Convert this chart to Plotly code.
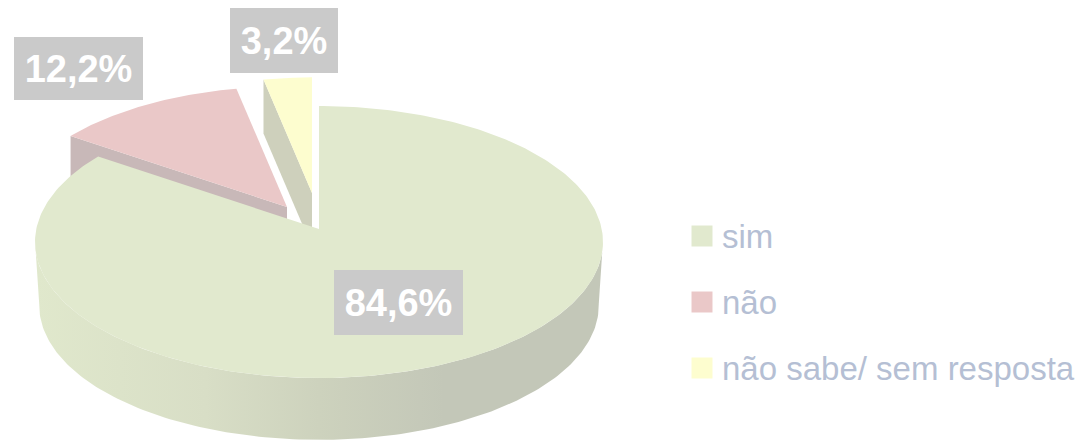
import numpy as np
import plotly.graph_objects as go

categories = ["sim", "não", "não sabe/ sem resposta"]
values = [84.6, 12.2, 3.2]
value_labels = ["84,6%", "12,2%", "3,2%"]

top_colors = ["#e1e9ce", "#eac8c8", "#fdfdcf"]
wall_colors = ["#c3c7b8", "#c8b8b8", "#ced0bc"]
apex = [(319, 229), (287, 207), (312, 193)]
scale = [1.0, 0.98, 0.94]
depth = [64, 50, 54]
label_pos = [(398.5, 302.5), (78.5, 68.5), (284, 40.5)]
label_size = [(129, 65), (129, 63), (108, 65)]
legend_y = [236, 302, 368]

W, H, K = 282.7, 134.8, 0.0956


def project(theta, ap, s=1.0):
    c, d = np.cos(theta), np.sin(theta)
    den = 1 + K * c
    return ap[0] + s * W * d / den, ap[1] - s * H * c / den


edges = np.radians(np.concatenate([[0], np.cumsum(values)]) * 3.6)
fig = go.Figure()


def poly(x, y, **kw):
    fig.add_trace(go.Scatter(x=list(x), y=list(y), mode="lines", fill="toself",
                             line=dict(width=0), hoverinfo="skip", showlegend=False, **kw))


# back slices first: inner walls then top faces
for i in (2, 1):
    a0 = edges[i]
    rx, ry = project(a0, apex[i], scale[i])
    ax, ay = apex[i]
    poly([ax, rx, rx, ax], [ay, ry, ry + depth[i], ay + depth[i]], fillcolor=wall_colors[i])
    t = np.linspace(edges[i], edges[i + 1], 60)
    px, py = project(t, apex[i], scale[i])
    poly(np.r_[ax, px], np.r_[ay, py], fillcolor=top_colors[i])

# main slice: outer wall with gradient, then top face
t = np.radians(np.linspace(95, 265, 160))
ux, uy = project(t, apex[0])
lx, ly = project(t[::-1], (apex[0][0], apex[0][1] + depth[0]), 0.985)
poly(np.r_[ux, lx], np.r_[uy, ly], fillgradient=dict(
    type="horizontal",
    colorscale=[[0, "#e0e8cc"], [0.3, "#d8dec6"], [0.5, "#cdd2bd"], [0.72, "#c3c7b8"], [1, "#c3c7b8"]]))
t = np.linspace(edges[0], edges[1], 320)
px, py = project(t, apex[0])
poly(np.r_[apex[0][0], px], np.r_[apex[0][1], py], fillcolor=top_colors[0])

# legend swatches
fig.add_trace(go.Scatter(x=[702] * 3, y=legend_y, mode="markers", hoverinfo="skip", showlegend=False,
                         marker=dict(symbol="square", size=21, color=top_colors, line=dict(width=0))))

annotations = []
for txt, (x, y), (w, h) in zip(value_labels, label_pos, label_size):
    annotations.append(dict(x=x, y=y, text=f"<b>{txt}</b>", showarrow=False, width=w, height=h,
                            bgcolor="#cacaca", borderpad=0, borderwidth=0, align="center", valign="middle",
                            font=dict(family="Liberation Sans", size=38, color="white")))
for txt, y in zip(categories, legend_y):
    annotations.append(dict(x=720, y=y, text=txt, showarrow=False, xanchor="left", yanchor="middle",
                            font=dict(family="Liberation Sans", size=33, color="#b5bfd4")))

fig.update_layout(
    width=1080, height=441, margin=dict(l=0, r=0, t=0, b=0),
    paper_bgcolor="white", plot_bgcolor="white", showlegend=False,
    xaxis=dict(range=[0, 1080], visible=False, fixedrange=True),
    yaxis=dict(range=[441, 0], visible=False, fixedrange=True),
    annotations=annotations,
)
fig.write_html("out.html", config=dict(displayModeBar=False),
               default_width="1080px", default_height="441px",
               post_script="document.body.style.margin='0';document.body.style.overflow='hidden';")
